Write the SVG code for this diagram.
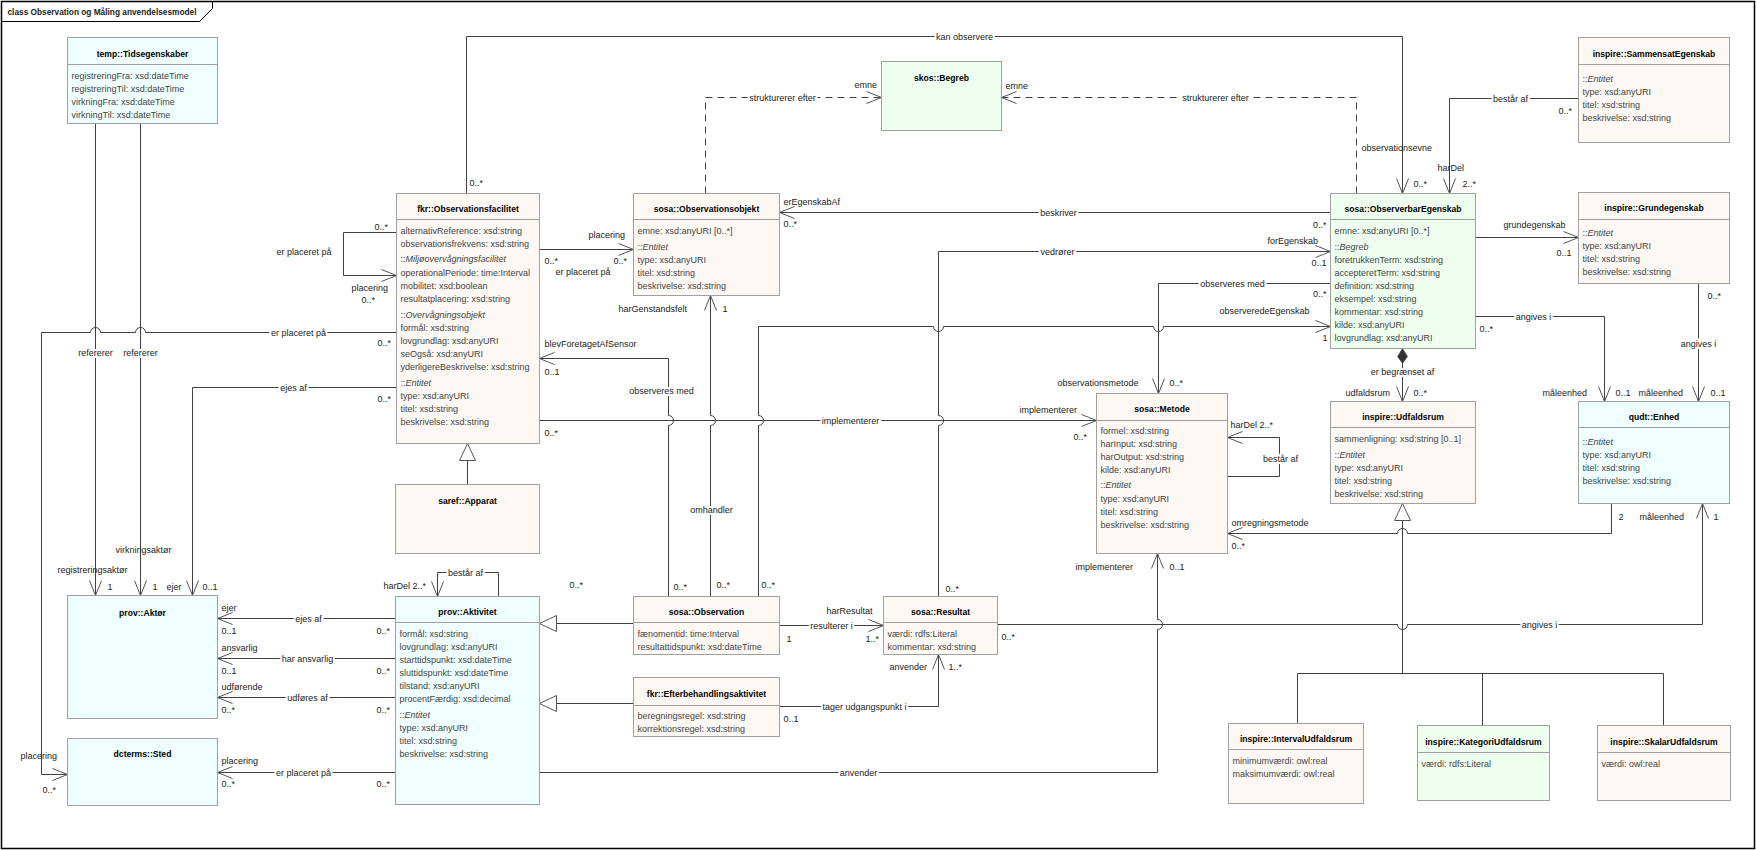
<svg xmlns="http://www.w3.org/2000/svg" width="1756" height="850" viewBox="0 0 1756 850">
<style>
text{font-family:"Liberation Sans",Arial,sans-serif;font-size:9px;fill:#222}
.t{font-weight:bold;font-size:8.6px;text-anchor:middle;fill:#000}
.a{fill:#444}
.i{font-style:italic}
.m{text-anchor:middle;stroke:#fff;stroke-width:4px;paint-order:stroke;stroke-linejoin:round}
.e{text-anchor:end}
.b{fill:#FDF8F4;stroke:#A0A0A0;stroke-width:1}
.c{fill:#EFFFFF;stroke:#A0A0A0;stroke-width:1}
.g{fill:#EFFFEF;stroke:#A0A0A0;stroke-width:1}
.s{stroke:#A0A0A0;stroke-width:1}
.ln{fill:none;stroke:#404040;stroke-width:1}
.arr{marker-end:url(#arr)}
.gen{marker-end:url(#gen)}
.d{stroke-dasharray:7,5}
</style>
<defs>
<marker id="arr" viewBox="-16 -8 17 16" refX="0" refY="0" markerWidth="17" markerHeight="16" markerUnits="userSpaceOnUse" orient="auto"><path d="M-15,-6 L0,0 L-15,6" fill="none" stroke="#555" stroke-width="1"/></marker>
<marker id="gen" viewBox="-18 -9 19 18" refX="0" refY="0" markerWidth="19" markerHeight="18" markerUnits="userSpaceOnUse" orient="auto"><path d="M-17,-8 L0,0 L-17,8 Z" fill="#fff" stroke="#555" stroke-width="1"/></marker>
</defs>
<rect x="0" y="0" width="1756" height="850" fill="#fff"/>
<g transform="translate(0.5,0.5)">
<g id="frame">
<path d="M1,1 H1754 V848 H1 Z" fill="none" stroke="#000" stroke-width="1.5"/>
<path d="M1,21 H199 L212,8 V1" fill="none" stroke="#000" stroke-width="1"/>
<text x="7" y="14" font-weight="bold" fill="#000" textLength="189" lengthAdjust="spacingAndGlyphs">class Observation og Måling anvendelsesmodel</text>
</g>
<g id="connectors">
<path class="ln arr" d="M466,193 V36 H1402 V193"/>
<text x="469" y="185">0..*</text>
<text class="m" x="964" y="39">kan observere</text>
<text x="1361" y="150">observationsevne</text>
<text x="1413" y="186">0..*</text>
<path class="ln d arr" d="M705,193 V97 H881"/>
<text class="m" x="782" y="100">strukturerer efter</text>
<text x="854" y="87">emne</text>
<path class="ln d arr" d="M1356,193 V97 H1001"/>
<text class="m" x="1215" y="100">strukturerer efter</text>
<text x="1005" y="88">emne</text>
<path class="ln arr" d="M1330,212 H779"/>
<text x="783" y="204">erEgenskabAf</text>
<text x="783" y="226">0..*</text>
<text class="m" x="1058" y="215">beskriver</text>
<text class="e" x="1326" y="227">0..*</text>
<path class="ln arr" d="M539,249 H633"/>
<text x="588" y="237">placering</text>
<text x="544" y="263">0..*</text>
<text x="613" y="263">0..*</text>
<text x="555" y="274">er placeret på</text>
<path class="ln arr" d="M938,596 V425 A5,5 0 0 0 938,415 V251 H1330"/>
<text class="m" x="1057" y="254">vedrører</text>
<text x="1267" y="243">forEgenskab</text>
<text class="e" x="1326" y="265">0..1</text>
<text x="945" y="591">0..*</text>
<path class="ln arr" d="M1330,283 H1158 V393"/>
<text class="m" x="1232" y="286">observeres med</text>
<text class="e" x="1326" y="296">0..*</text>
<text x="1057" y="385">observationsmetode</text>
<text x="1169" y="385">0..*</text>
<path class="ln arr" d="M758,596 V425 A5,5 0 0 0 758,415 V326 H933 A5,5 0 0 0 943,326 H1153 A5,5 0 0 0 1163,326 H1330"/>
<text x="1219" y="313">observeredeEgenskab</text>
<text class="e" x="1327" y="340">1</text>
<text x="761" y="587">0..*</text>
<path class="ln arr" d="M710,596 V425 A5,5 0 0 0 710,415 V295"/>
<text x="618" y="311">harGenstandsfelt</text>
<text x="722" y="311">1</text>
<text class="m" x="711" y="512">omhandler</text>
<text x="716" y="587">0..*</text>
<path class="ln arr" d="M668,596 V425 A5,5 0 0 0 668,415 V358 H539"/>
<text x="544" y="346">blevForetagetAfSensor</text>
<text x="544" y="374">0..1</text>
<text class="m" x="661" y="393">observeres med</text>
<text x="673" y="589">0..*</text>
<path class="ln arr" d="M539,420 H1096"/>
<text x="544" y="435">0..*</text>
<text class="m" x="850" y="423">implementerer</text>
<text x="1019" y="412">implementerer</text>
<text x="1073" y="439">0..*</text>
<path class="ln arr" d="M1227,476 H1279 V437 H1227"/>
<text x="1230" y="427">harDel 2..*</text>
<text class="m" x="1280" y="461">består af</text>
<path class="ln arr" d="M1611,503 V533 H1407 A5,5 0 0 0 1397,533 H1227"/>
<text x="1231" y="525">omregningsmetode</text>
<text x="1231" y="548">0..*</text>
<text x="1618" y="519">2</text>
<path class="ln arr" d="M997,624 H1397 A5,5 0 0 0 1407,624 H1702 V503"/>
<text x="1001" y="639">0..*</text>
<text class="m" x="1539" y="627">angives i</text>
<text x="1639" y="519">måleenhed</text>
<text x="1713" y="519">1</text>
<path class="ln arr" d="M539,772 H1157 V629 A5,5 0 0 0 1157,619 V553"/>
<text class="m" x="858" y="775">anvender</text>
<text x="1075" y="569">implementerer</text>
<text x="1169" y="569">0..1</text>
<path class="ln arr" d="M779,625 H883"/>
<text x="826" y="613">harResultat</text>
<text class="m" x="831" y="628">resulterer i</text>
<text x="786" y="641">1</text>
<text x="865" y="641">1..*</text>
<path class="ln arr" d="M779,706 H938 V654"/>
<text x="783" y="721">0..1</text>
<text class="m" x="864" y="709">tager udgangspunkt i</text>
<text x="889" y="669">anvender</text>
<text x="948" y="669">1..*</text>
<path class="ln gen" d="M633,623 H539"/>
<path class="ln gen" d="M633,703 H539"/>
<path class="ln gen" d="M467,484 V443"/>
<path class="ln arr" d="M395,618 H217"/>
<text x="221" y="610">ejer</text>
<text x="221" y="633">0..1</text>
<text class="m" x="308" y="621">ejes af</text>
<text x="376" y="633">0..*</text>
<path class="ln arr" d="M395,658 H217"/>
<text x="221" y="650">ansvarlig</text>
<text x="221" y="673">0..1</text>
<text class="m" x="307" y="661">har ansvarlig</text>
<text x="376" y="673">0..*</text>
<path class="ln arr" d="M395,697 H217"/>
<text x="221" y="689">udførende</text>
<text x="221" y="712">0..*</text>
<text class="m" x="307" y="700">udføres af</text>
<text x="376" y="712">0..*</text>
<path class="ln arr" d="M395,772 H217"/>
<text x="221" y="763">placering</text>
<text x="221" y="786">0..*</text>
<text class="m" x="303" y="775">er placeret på</text>
<text x="376" y="786">0..*</text>
<path class="ln arr" d="M498,596 V572 H437 V596"/>
<text x="383" y="588">harDel 2..*</text>
<text class="m" x="465" y="575">består af</text>
<text x="569" y="587">0..*</text>
<path class="ln arr" d="M396,232 H343 V275 H396"/>
<text x="374" y="229">0..*</text>
<text x="276" y="254">er placeret på</text>
<text x="351" y="290">placering</text>
<text x="361" y="302">0..*</text>
<path class="ln arr" d="M396,332 H145 A5,5 0 0 0 135,332 H100 A5,5 0 0 0 90,332 H41 V774 H67"/>
<text x="377" y="345">0..*</text>
<text class="m" x="298" y="335">er placeret på</text>
<text x="20" y="758">placering</text>
<text x="42" y="792">0..*</text>
<path class="ln arr" d="M396,387 H192 V595"/>
<text x="377" y="401">0..*</text>
<text class="m" x="293" y="390">ejes af</text>
<text x="166" y="589">ejer</text>
<text x="202" y="589">0..1</text>
<path class="ln arr" d="M95,123 V595"/>
<path class="ln arr" d="M140,123 V595"/>
<text class="m" x="95" y="355">refererer</text>
<text class="m" x="140" y="355">refererer</text>
<text x="57" y="572">registreringsaktør</text>
<text x="107" y="589">1</text>
<text x="115" y="552">virkningsaktør</text>
<text x="152" y="589">1</text>
<path class="ln arr" d="M1578,98 H1449 V193"/>
<text class="m" x="1510" y="101">består af</text>
<text x="1558" y="113">0..*</text>
<text x="1437" y="170">harDel</text>
<text x="1462" y="186">2..*</text>
<path class="ln arr" d="M1475,237 H1578"/>
<text x="1503" y="227">grundegenskab</text>
<text x="1556" y="255">0..1</text>
<path class="ln arr" d="M1475,316 H1604 V401"/>
<text x="1479" y="331">0..*</text>
<text class="m" x="1533" y="319">angives i</text>
<text x="1542" y="395">måleenhed</text>
<text x="1615" y="395">0..1</text>
<path class="ln arr" d="M1698,283 V401"/>
<text x="1707" y="298">0..*</text>
<text class="m" x="1698" y="346">angives i</text>
<text x="1638" y="395">måleenhed</text>
<text x="1710" y="395">0..1</text>
<path class="ln arr" d="M1402,360 V401"/>
<path d="M1402,348 L1407,356 L1402,363 L1397,356 Z" fill="#333" stroke="#333" stroke-width="0.5"/>
<text class="m" x="1402" y="374">er begrænset af</text>
<text x="1345" y="395">udfaldsrum</text>
<text x="1413" y="395">0..*</text>
<path class="ln" d="M1297,723 V673 H1663 V725"/>
<path class="ln" d="M1482,725 V673"/>
<path class="ln gen" d="M1402,673 V503"/>
</g>
<g id="n_tids">
<rect class="c" x="67" y="37" width="150" height="86"/>
<line class="s" x1="67" y1="64" x2="217" y2="64"/>
<text class="t" x="142" y="56">temp::Tidsegenskaber</text>
<text class="a" x="71" y="78">registreringFra: xsd:dateTime</text>
<text class="a" x="71" y="91">registreringTil: xsd:dateTime</text>
<text class="a" x="71" y="104">virkningFra: xsd:dateTime</text>
<text class="a" x="71" y="117">virkningTil: xsd:dateTime</text>
</g>
<g id="n_obsfac">
<rect class="b" x="396" y="193" width="143" height="250"/>
<line class="s" x1="396" y1="219" x2="539" y2="219"/>
<text class="t" x="467.5" y="211">fkr::Observationsfacilitet</text>
<text class="a" x="400" y="233">alternativReference: xsd:string</text>
<text class="a" x="400" y="246">observationsfrekvens: xsd:string</text>
<text class="a" x="400" y="261">::<tspan class="i">Miljøovervågningsfacilitet</tspan></text>
<text class="a" x="400" y="275">operationalPeriode: time:Interval</text>
<text class="a" x="400" y="288">mobilitet: xsd:boolean</text>
<text class="a" x="400" y="301">resultatplacering: xsd:string</text>
<text class="a" x="400" y="317">::<tspan class="i">Overvågningsobjekt</tspan></text>
<text class="a" x="400" y="330">formål: xsd:string</text>
<text class="a" x="400" y="343">lovgrundlag: xsd:anyURI</text>
<text class="a" x="400" y="356">seOgså: xsd:anyURI</text>
<text class="a" x="400" y="369">yderligereBeskrivelse: xsd:string</text>
<text class="a" x="400" y="385">::<tspan class="i">Entitet</tspan></text>
<text class="a" x="400" y="398">type: xsd:anyURI</text>
<text class="a" x="400" y="411">titel: xsd:string</text>
<text class="a" x="400" y="424">beskrivelse: xsd:string</text>
</g>
<g id="n_apparat">
<rect class="b" x="395" y="484" width="144" height="69"/>
<text class="t" x="467" y="503">saref::Apparat</text>
</g>
<g id="n_obsobj">
<rect class="b" x="633" y="193" width="146" height="102"/>
<line class="s" x1="633" y1="219" x2="779" y2="219"/>
<text class="t" x="706" y="211">sosa::Observationsobjekt</text>
<text class="a" x="637" y="233">emne: xsd:anyURI [0..*]</text>
<text class="a" x="637" y="249">::<tspan class="i">Entitet</tspan></text>
<text class="a" x="637" y="262">type: xsd:anyURI</text>
<text class="a" x="637" y="275">titel: xsd:string</text>
<text class="a" x="637" y="288">beskrivelse: xsd:string</text>
</g>
<g id="n_begreb">
<rect class="g" x="881" y="61" width="120" height="69"/>
<text class="t" x="941" y="80">skos::Begreb</text>
</g>
<g id="n_obsegen">
<rect class="g" x="1330" y="193" width="145" height="155"/>
<line class="s" x1="1330" y1="219" x2="1475" y2="219"/>
<text class="t" x="1402.5" y="211">sosa::ObserverbarEgenskab</text>
<text class="a" x="1334" y="233">emne: xsd:anyURI [0..*]</text>
<text class="a" x="1334" y="249">::<tspan class="i">Begreb</tspan></text>
<text class="a" x="1334" y="262">foretrukkenTerm: xsd:string</text>
<text class="a" x="1334" y="275">accepteretTerm: xsd:string</text>
<text class="a" x="1334" y="288">definition: xsd:string</text>
<text class="a" x="1334" y="301">eksempel: xsd:string</text>
<text class="a" x="1334" y="314">kommentar: xsd:string</text>
<text class="a" x="1334" y="327">kilde: xsd:anyURI</text>
<text class="a" x="1334" y="340">lovgrundlag: xsd:anyURI</text>
</g>
<g id="n_sammensat">
<rect class="b" x="1578" y="37" width="151" height="105"/>
<line class="s" x1="1578" y1="64" x2="1729" y2="64"/>
<text class="t" x="1653.5" y="56">inspire::SammensatEgenskab</text>
<text class="a" x="1582" y="81">::<tspan class="i">Entitet</tspan></text>
<text class="a" x="1582" y="94">type: xsd:anyURI</text>
<text class="a" x="1582" y="107">titel: xsd:string</text>
<text class="a" x="1582" y="120">beskrivelse: xsd:string</text>
</g>
<g id="n_grund">
<rect class="b" x="1578" y="192" width="151" height="91"/>
<line class="s" x1="1578" y1="219" x2="1729" y2="219"/>
<text class="t" x="1653.5" y="210">inspire::Grundegenskab</text>
<text class="a" x="1582" y="235">::<tspan class="i">Entitet</tspan></text>
<text class="a" x="1582" y="248">type: xsd:anyURI</text>
<text class="a" x="1582" y="261">titel: xsd:string</text>
<text class="a" x="1582" y="274">beskrivelse: xsd:string</text>
</g>
<g id="n_udfald">
<rect class="b" x="1330" y="401" width="145" height="102"/>
<line class="s" x1="1330" y1="427" x2="1475" y2="427"/>
<text class="t" x="1402.5" y="419">inspire::Udfaldsrum</text>
<text class="a" x="1334" y="441">sammenligning: xsd:string [0..1]</text>
<text class="a" x="1334" y="457">::<tspan class="i">Entitet</tspan></text>
<text class="a" x="1334" y="470">type: xsd:anyURI</text>
<text class="a" x="1334" y="483">titel: xsd:string</text>
<text class="a" x="1334" y="496">beskrivelse: xsd:string</text>
</g>
<g id="n_enhed">
<rect class="c" x="1578" y="401" width="151" height="102"/>
<line class="s" x1="1578" y1="427" x2="1729" y2="427"/>
<text class="t" x="1653.5" y="419">qudt::Enhed</text>
<text class="a" x="1582" y="444">::<tspan class="i">Entitet</tspan></text>
<text class="a" x="1582" y="457">type: xsd:anyURI</text>
<text class="a" x="1582" y="470">titel: xsd:string</text>
<text class="a" x="1582" y="483">beskrivelse: xsd:string</text>
</g>
<g id="n_metode">
<rect class="b" x="1096" y="393" width="131" height="160"/>
<line class="s" x1="1096" y1="420" x2="1227" y2="420"/>
<text class="t" x="1161.5" y="411">sosa::Metode</text>
<text class="a" x="1100" y="433">formel: xsd:string</text>
<text class="a" x="1100" y="446">harInput: xsd:string</text>
<text class="a" x="1100" y="459">harOutput: xsd:string</text>
<text class="a" x="1100" y="472">kilde: xsd:anyURI</text>
<text class="a" x="1100" y="487">::<tspan class="i">Entitet</tspan></text>
<text class="a" x="1100" y="501">type: xsd:anyURI</text>
<text class="a" x="1100" y="514">titel: xsd:string</text>
<text class="a" x="1100" y="527">beskrivelse: xsd:string</text>
</g>
<g id="n_aktor">
<rect class="c" x="67" y="595" width="150" height="123"/>
<text class="t" x="142" y="615">prov::Aktør</text>
</g>
<g id="n_sted">
<rect class="c" x="67" y="738" width="150" height="67"/>
<text class="t" x="142" y="756">dcterms::Sted</text>
</g>
<g id="n_aktivitet">
<rect class="c" x="395" y="596" width="144" height="208"/>
<line class="s" x1="395" y1="622" x2="539" y2="622"/>
<text class="t" x="467" y="614">prov::Aktivitet</text>
<text class="a" x="399" y="636">formål: xsd:string</text>
<text class="a" x="399" y="649">lovgrundlag: xsd:anyURI</text>
<text class="a" x="399" y="662">starttidspunkt: xsd:dateTime</text>
<text class="a" x="399" y="675">sluttidspunkt: xsd:dateTime</text>
<text class="a" x="399" y="688">tilstand: xsd:anyURI</text>
<text class="a" x="399" y="701">procentFærdig: xsd:decimal</text>
<text class="a" x="399" y="717">::<tspan class="i">Entitet</tspan></text>
<text class="a" x="399" y="730">type: xsd:anyURI</text>
<text class="a" x="399" y="743">titel: xsd:string</text>
<text class="a" x="399" y="756">beskrivelse: xsd:string</text>
</g>
<g id="n_observation">
<rect class="b" x="633" y="596" width="146" height="58"/>
<line class="s" x1="633" y1="622" x2="779" y2="622"/>
<text class="t" x="706" y="614">sosa::Observation</text>
<text class="a" x="637" y="636">fænomentid: time:Interval</text>
<text class="a" x="637" y="649">resultattidspunkt: xsd:dateTime</text>
</g>
<g id="n_efter">
<rect class="b" x="633" y="677" width="146" height="59"/>
<line class="s" x1="633" y1="705" x2="779" y2="705"/>
<text class="t" x="706" y="696">fkr::Efterbehandlingsaktivitet</text>
<text class="a" x="637" y="718">beregningsregel: xsd:string</text>
<text class="a" x="637" y="731">korrektionsregel: xsd:string</text>
</g>
<g id="n_resultat">
<rect class="b" x="883" y="596" width="114" height="58"/>
<line class="s" x1="883" y1="622" x2="997" y2="622"/>
<text class="t" x="940" y="614">sosa::Resultat</text>
<text class="a" x="887" y="636">værdi: rdfs:Literal</text>
<text class="a" x="887" y="649">kommentar: xsd:string</text>
</g>
<g id="n_interval">
<rect class="b" x="1228" y="723" width="135" height="80"/>
<line class="s" x1="1228" y1="749" x2="1363" y2="749"/>
<text class="t" x="1295.5" y="741">inspire::IntervalUdfaldsrum</text>
<text class="a" x="1232" y="763">minimumværdi: owl:real</text>
<text class="a" x="1232" y="776">maksimumværdi: owl:real</text>
</g>
<g id="n_kategori">
<rect class="g" x="1417" y="725" width="132" height="75"/>
<line class="s" x1="1417" y1="752" x2="1549" y2="752"/>
<text class="t" x="1483" y="744">inspire::KategoriUdfaldsrum</text>
<text class="a" x="1421" y="766">værdi: rdfs:Literal</text>
</g>
<g id="n_skalar">
<rect class="b" x="1597" y="725" width="133" height="75"/>
<line class="s" x1="1597" y1="752" x2="1730" y2="752"/>
<text class="t" x="1663.5" y="744">inspire::SkalarUdfaldsrum</text>
<text class="a" x="1601" y="766">værdi: owl:real</text>
</g>
</g>
</svg>
